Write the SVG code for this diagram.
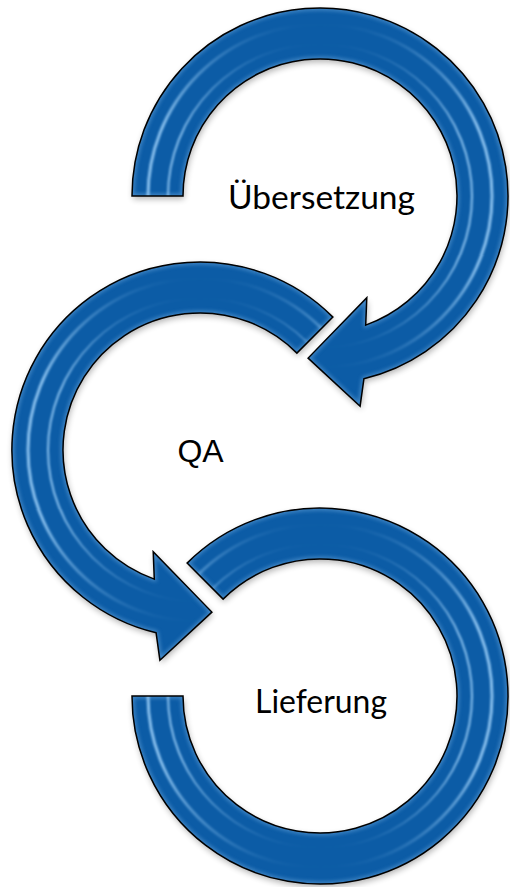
<svg xmlns="http://www.w3.org/2000/svg" width="510" height="887" viewBox="0 0 510 887">
  <style>
    .band { fill: #0c5ca6; }
    .outline { fill: none; stroke: #000; stroke-width: 1.5; stroke-linejoin: miter; }
    .rim { fill: none; stroke: #7fb8ea; stroke-width: 4; opacity: 0.55; filter: url(#soft); }
    .streak { fill: none; stroke: url(#streakGrad); filter: url(#soft1); }
    .shadow { fill: #000; opacity: 0.3; filter: url(#shadowBlur); }
    .lbl { font-family: Lato, "Noto Sans", "Liberation Sans", sans-serif; font-size: 32px; fill: #000; }
    .lbl-qa { font-family: "Liberation Sans", Arial, sans-serif; font-size: 32px; fill: #000; }
  </style>
  <defs>
    <filter id="shadowBlur" x="-20%" y="-20%" width="140%" height="140%">
      <feGaussianBlur stdDeviation="3"/>
    </filter>
    <filter id="soft" x="-20%" y="-20%" width="140%" height="140%">
      <feGaussianBlur stdDeviation="2"/>
    </filter>
    <filter id="soft1" x="-20%" y="-20%" width="140%" height="140%">
      <feGaussianBlur stdDeviation="1.2"/>
    </filter>
    <linearGradient id="streakGrad" x1="0" y1="0" x2="0" y2="1">
      <stop offset="0" stop-color="#9fd2fb" stop-opacity="0"/>
      <stop offset="0.3" stop-color="#9fd2fb" stop-opacity="0.85"/>
      <stop offset="0.7" stop-color="#9fd2fb" stop-opacity="0.85"/>
      <stop offset="1" stop-color="#9fd2fb" stop-opacity="0"/>
    </linearGradient>
    <path id="p1" d="M132,196 A188,188 0 1 1 363.9,378.8 L360.1,406.2 L308.1,358.1 L366.8,297.8 L365.7,325.1 A137,137 0 1 0 183,196 Z"/>
    <path id="p2" d="M332.9,317.1 A188,188 0 1 0 156.1,632.8 L159.9,660.2 L211.9,612.1 L153.2,551.8 L154.3,579.1 A137,137 0 1 1 296.9,353.1 Z"/>
    <path id="p3" d="M187.1,563.1 A188,188 0 1 1 132,696 L183,696 A137,137 0 1 0 223.1,599.1 Z"/>
    <clipPath id="c1"><use href="#p1"/></clipPath>
    <clipPath id="c2"><use href="#p2"/></clipPath>
    <clipPath id="c3"><use href="#p3"/></clipPath>
  </defs>
  <rect width="510" height="887" fill="#fff"/>

  <g id="node-uebersetzung">
    <use href="#p1" class="shadow" transform="translate(1,3)"/>
    <use href="#p1" class="band"/>
    <g clip-path="url(#c1)">
      <use href="#p1" class="rim"/>
      <circle cx="320" cy="196" r="172" class="streak" stroke-width="3"/>
      <circle cx="320" cy="196" r="152" class="streak" stroke-width="2"/>
    </g>
    <use href="#p1" class="outline"/>
    <text class="lbl" x="228" y="209" textLength="187" lengthAdjust="spacingAndGlyphs">Übersetzung</text>
  </g>

  <g id="node-qa">
    <use href="#p2" class="shadow" transform="translate(1,3)"/>
    <use href="#p2" class="band"/>
    <g clip-path="url(#c2)">
      <use href="#p2" class="rim"/>
      <circle cx="200" cy="450" r="172" class="streak" stroke-width="3"/>
      <circle cx="200" cy="450" r="152" class="streak" stroke-width="2"/>
    </g>
    <use href="#p2" class="outline"/>
    <text class="lbl-qa" x="200.5" y="462" text-anchor="middle">QA</text>
  </g>

  <g id="node-lieferung">
    <use href="#p3" class="shadow" transform="translate(1,3)"/>
    <use href="#p3" class="band"/>
    <g clip-path="url(#c3)">
      <use href="#p3" class="rim"/>
      <circle cx="320" cy="696" r="172" class="streak" stroke-width="3"/>
      <circle cx="320" cy="696" r="152" class="streak" stroke-width="2"/>
    </g>
    <use href="#p3" class="outline"/>
    <text class="lbl" x="255" y="713" textLength="132" lengthAdjust="spacingAndGlyphs">Lieferung</text>
  </g>

  <g id="connectors"/>
</svg>
